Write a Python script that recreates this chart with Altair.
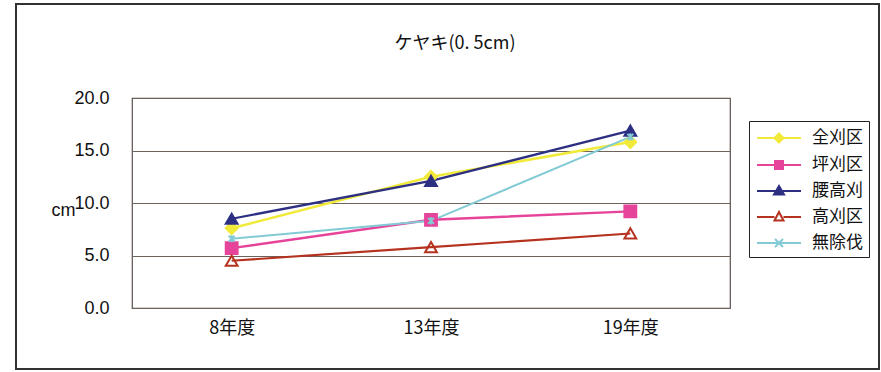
import altair as alt
import pandas as pd

years = ["8年度", "13年度", "19年度"]
series = ["全刈区", "坪刈区", "腰高刈", "高刈区", "無除伐"]
zenkari = [7.6, 12.5, 15.8]
tsubokari = [5.7, 8.4, 9.2]
koshitaka = [8.5, 12.1, 16.9]
takakari = [4.5, 5.8, 7.1]
mujobatsu = [6.6, 8.3, 16.3]

values = [zenkari, tsubokari, koshitaka, takakari, mujobatsu]
rows = []
for s, vals in zip(series, values):
    for y, v in zip(years, vals):
        rows.append({"year": y, "series": s, "value": v})
df = pd.DataFrame(rows)

stroke_colors = ["#f2ea3a", "#e6449a", "#2c2f82", "#b5321f", "#82cad4"]
fill_colors = ["#f2ea3a", "#e6449a", "#2c2f82", "transparent", "transparent"]
line_widths = [2.5, 2, 2.5, 2, 1.5]
xpath = "M-0.5,-0.5L0.5,0.5M-0.5,0.5L0.5,-0.5M0,-0.6L0,0.6"
point_shapes = ["diamond", "square", "triangle-up", "triangle-up", xpath]
legend_shapes = [
    "M-2.2,0H2.2M0,-0.45L0.45,0L0,0.45L-0.45,0Z",
    "M-2.2,0H2.2M-0.4,-0.4H0.4V0.4H-0.4Z",
    "M-2.2,0H2.2M0,-0.5L0.5,0.35L-0.5,0.35Z",
    "M-2.2,0H-0.45M0.45,0H2.2M0,-0.5L0.45,0.35L-0.45,0.35Z",
    "M-2.2,0H2.2M-0.4,-0.4L0.4,0.4M-0.4,0.4L0.4,-0.4",
]

x_enc = alt.X("year:N", sort=years, title=None,
              scale=alt.Scale(paddingInner=0, paddingOuter=0),
              axis=alt.Axis(labelAngle=0, ticks=False, domain=False,
                            labelFontSize=18, labelPadding=11,
                            labelFont="Noto Sans CJK JP", labelColor="#111"))
y_enc = alt.Y("value:Q", title="cm",
              scale=alt.Scale(domain=[0, 20]),
              axis=alt.Axis(values=[0, 5, 10, 15, 20], format=".1f",
                            ticks=False, domain=False, labelFontSize=18,
                            labelFont="Liberation Sans", labelColor="#111",
                            labelPadding=23, grid=True, gridColor="#6e625c",
                            gridWidth=1.2, titleAngle=0, titleX=-69, titleY=112,
                            titleAlign="center", titleBaseline="middle",
                            titleFont="Liberation Sans", titleFontSize=18,
                            titleFontWeight="normal", titleColor="#111"))

stroke_scale = alt.Scale(domain=series, range=stroke_colors)
fill_scale = alt.Scale(domain=series, range=fill_colors)

frame = alt.Chart(df).mark_rect(fill=None, stroke="#333", strokeWidth=1.2, clip=False).encode(
    x=alt.value(-116), x2=alt.value(747), y=alt.value(-94), y2=alt.value(271)
)

lines = alt.Chart(df).mark_line().encode(
    x=x_enc, y=y_enc,
    stroke=alt.Stroke("series:N", scale=stroke_scale, legend=None),
    strokeWidth=alt.StrokeWidth("series:N", scale=alt.Scale(domain=series, range=line_widths), legend=None),
    detail="series:N",
)

points = alt.Chart(df).mark_point(size=140, strokeWidth=2, opacity=1).encode(
    x=x_enc, y=y_enc,
    stroke=alt.Stroke("series:N", scale=stroke_scale, legend=None),
    fill=alt.Fill("series:N", scale=fill_scale, legend=None),
    shape=alt.Shape("series:N", scale=alt.Scale(domain=series, range=point_shapes), legend=None),
)

legend_layer = alt.Chart(df).transform_filter("false").mark_point(strokeWidth=2, opacity=1).encode(
    stroke=alt.Stroke("series:N", scale=alt.Scale(domain=series, range=stroke_colors),
                      legend=alt.Legend(title=None, orient="none", legendX=617, legendY=23,
                                        strokeColor="#222", fillColor="white", padding=6,
                                        labelFontSize=17, labelFont="Noto Sans CJK JP",
                                        labelColor="#111", symbolSize=400,
                                        symbolStrokeWidth=2, rowPadding=7,
                                        symbolOffset=13, labelOffset=22)),
    fill=alt.Fill("series:N", scale=alt.Scale(domain=series, range=fill_colors)),
    shape=alt.Shape("series:N", scale=alt.Scale(domain=series, range=legend_shapes)),
)

chart = alt.layer(frame, lines, points, legend_layer).resolve_scale(
    stroke="independent", fill="independent", shape="independent"
).properties(
    width=598, height=210,
    title=alt.TitleParams("ケヤキ(0. 5cm)", fontSize=18, font="Noto Sans CJK JP",
                          fontWeight="normal", color="#111", offset=-50, dx=24),
    autosize=alt.AutoSizeParams(type="none"),
    padding={"left": 132, "top": 98, "right": 151, "bottom": 64},
    background="white",
).configure_view(
    fill="#cbc7bd", stroke="#5a524e", strokeWidth=1.2
)

chart.save("out.html", embed_options={"renderer": "svg", "actions": False})
